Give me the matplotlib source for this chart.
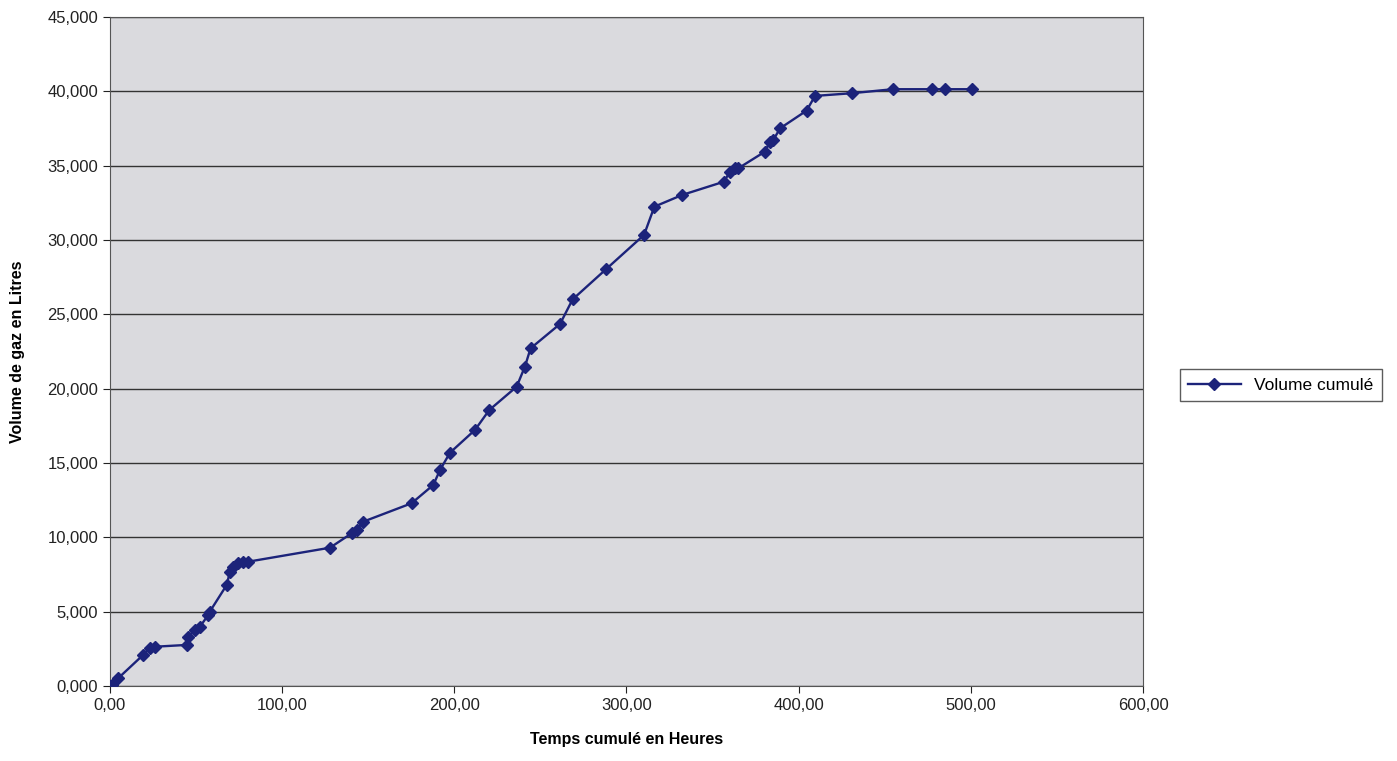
import numpy as np
import matplotlib.pyplot as plt
from matplotlib.ticker import FuncFormatter

plt.rcParams['font.family'] = ['Liberation Sans', 'DejaVu Sans']

# Temps cumulé (heures) et volume cumulé (litres, en milliers)
temps = [0, 1.0, 4.8, 19.3, 23.0, 26.1, 44.5, 45.5, 49.4, 52.3, 57.1, 58.0,
         67.8, 69.7, 71.6, 74.5, 77.4, 80.3, 127.8, 140.4, 143.3, 147.1,
         175.2, 187.8, 191.7, 197.5, 212.0, 220.3, 236.2, 241.0, 244.3,
         261.4, 268.7, 288.1, 310.2, 316.2, 332.4, 356.6, 360.1, 363.0,
         364.9, 380.4, 383.3, 385.3, 389.2, 404.6, 409.5, 430.8, 454.6,
         477.2, 485.0, 500.5]
volume = [0, 0.07, 0.52, 2.09, 2.55, 2.64, 2.76, 3.32, 3.77, 3.99, 4.78, 5.0,
          6.79, 7.69, 8.02, 8.25, 8.36, 8.36, 9.30, 10.27, 10.49, 11.05,
          12.29, 13.52, 14.53, 15.69, 17.22, 18.56, 20.13, 21.48, 22.71,
          24.35, 26.0, 28.03, 30.34, 32.24, 33.03, 33.92, 34.59, 34.82,
          34.82, 35.94, 36.61, 36.73, 37.51, 38.70, 39.69, 39.87, 40.14,
          40.14, 40.14, 40.14]

fig = plt.figure(figsize=(13.97, 7.61), dpi=100)
ax = fig.add_axes([0.0787, 0.0986, 0.7395, 0.8791])
ax.set_facecolor('#dadade')

ax.plot(temps, volume, color='#1c237a', linewidth=1.7, marker='D',
        markersize=6, label='Volume cumulé', zorder=3)

ax.set_xlim(0, 600)
ax.set_ylim(0, 45)
ax.set_xticks(np.arange(0, 601, 100))
ax.set_yticks(np.arange(0, 46, 5))
ax.xaxis.set_major_formatter(FuncFormatter(lambda v, p: f'{v:.2f}'.replace('.', ',')))
ax.yaxis.set_major_formatter(FuncFormatter(lambda v, p: f'{v:.3f}'.replace('.', ',')))
ax.tick_params(labelsize=12, colors='#222222', length=5, direction='out')
ax.grid(axis='y', color='#333333', linewidth=1.0)
ax.set_axisbelow(True)
for s in ax.spines.values():
    s.set_color('#555555')

ax.set_xlabel('Temps cumulé en Heures', fontsize=11.5, fontweight='bold', labelpad=14)
ax.set_ylabel('Volume de gaz en Litres', fontsize=11.5, fontweight='bold', labelpad=16)

leg = fig.legend(loc='center', bbox_to_anchor=(0.917, 0.494), fontsize=12.5,
                 frameon=True, fancybox=False, edgecolor='#333333',
                 handlelength=3.0, borderpad=0.5)

fig.savefig('out.png', dpi=100)
